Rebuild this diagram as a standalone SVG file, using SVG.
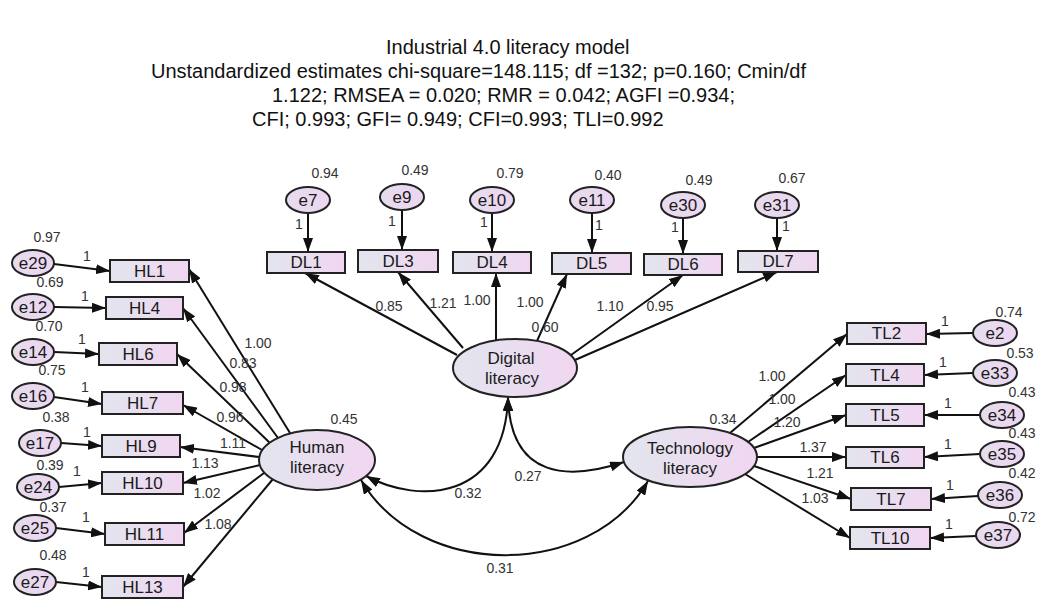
<svg xmlns="http://www.w3.org/2000/svg" width="1040" height="600" viewBox="0 0 1040 600">
<defs>
<linearGradient id="gb" x1="0" y1="0" x2="1" y2="0"><stop offset="0" stop-color="#e2e5ee"/><stop offset="1" stop-color="#f1d6f1"/></linearGradient>
<linearGradient id="ge" x1="0" y1="0" x2="1" y2="0"><stop offset="0" stop-color="#e6dcee"/><stop offset="1" stop-color="#ecd6f0"/></linearGradient>
<marker id="ah" viewBox="0 0 14 10" refX="14" refY="5" markerWidth="14" markerHeight="10" markerUnits="userSpaceOnUse" orient="auto-start-reverse"><path d="M0,0 L14,5 L0,10 z" fill="#111"/></marker>
</defs>
<style>
text{font-family:"Liberation Sans",Arial,sans-serif;fill:#1a1a1a;text-anchor:middle}
.t{font-size:20px;text-anchor:start;fill:#111}
.box{fill:url(#gb);stroke:#222;stroke-width:2}
.err{fill:url(#ge);stroke:#222;stroke-width:2}
.lat{fill:url(#gb);stroke:#222;stroke-width:2}
.nm{font-size:17px}
.ln{font-size:17px}
.n{font-size:14px;fill:#333}
.o{font-size:14px;fill:#333}
#connectors line,#connectors path{stroke:#111;stroke-width:2;fill:none;marker-end:url(#ah)}
#connectors path.cov{marker-start:url(#ah)}
</style>
<rect width="1040" height="600" fill="#fff"/>
<g id="title">
<text class="t" x="386" y="54">Industrial 4.0 literacy model</text>
<text class="t" x="151" y="78">Unstandardized estimates chi-square=148.115; df =132; p=0.160; Cmin/df</text>
<text class="t" x="272" y="102">1.122; RMSEA = 0.020; RMR = 0.042; AGFI =0.934;</text>
<text class="t" x="252" y="126">CFI; 0.993; GFI= 0.949; CFI=0.993; TLI=0.992</text>
</g>
<g id="connectors">
<line x1="54" y1="264" x2="110" y2="271"/>
<line x1="54" y1="307" x2="106" y2="308"/>
<line x1="54" y1="352" x2="99" y2="354"/>
<line x1="54" y1="397" x2="102" y2="404"/>
<line x1="61" y1="443" x2="102" y2="446"/>
<line x1="59" y1="487" x2="102" y2="483"/>
<line x1="56" y1="528" x2="105" y2="534"/>
<line x1="56" y1="582" x2="102" y2="587"/>
<line x1="290" y1="433" x2="189" y2="269"/>
<line x1="278" y1="438" x2="183" y2="308"/>
<line x1="270" y1="443" x2="177" y2="354"/>
<line x1="262" y1="450" x2="183" y2="405"/>
<line x1="259" y1="457" x2="180" y2="447"/>
<line x1="260" y1="465" x2="183" y2="483"/>
<line x1="264" y1="473" x2="184" y2="533"/>
<line x1="273" y1="479" x2="183" y2="587"/>
<line x1="308" y1="213" x2="308" y2="252"/>
<line x1="402" y1="210" x2="402" y2="250"/>
<line x1="492" y1="213" x2="492" y2="252"/>
<line x1="592" y1="213" x2="592" y2="253"/>
<line x1="683" y1="218" x2="683" y2="254"/>
<line x1="777" y1="218" x2="777" y2="251"/>
<line x1="457" y1="355" x2="305" y2="273"/>
<line x1="463" y1="348" x2="398" y2="272"/>
<line x1="496" y1="340" x2="496" y2="273"/>
<line x1="537" y1="341" x2="567" y2="274"/>
<line x1="571" y1="355" x2="683" y2="275"/>
<line x1="575" y1="360" x2="777" y2="272"/>
<line x1="730" y1="433" x2="847" y2="334"/>
<line x1="748" y1="442" x2="846" y2="375"/>
<line x1="754" y1="448" x2="846" y2="415"/>
<line x1="757" y1="457" x2="846" y2="457"/>
<line x1="754" y1="466" x2="851" y2="499"/>
<line x1="745" y1="474" x2="850" y2="538"/>
<line x1="973" y1="333" x2="926" y2="334"/>
<line x1="973" y1="373" x2="924" y2="375"/>
<line x1="980" y1="415" x2="924" y2="415"/>
<line x1="980" y1="454" x2="924" y2="457"/>
<line x1="978" y1="496" x2="931" y2="499"/>
<line x1="976" y1="536" x2="930" y2="538"/>
<path class="cov" d="M366 476 C420 505 505 500 508 397"/>
<path class="cov" d="M508 397 C510 480 570 480 624 462"/>
<path class="cov" d="M361 480 C420 580 590 580 648 481"/>
<g id="labels">
<text class="o" x="87" y="261">1</text>
<text class="o" x="85" y="301">1</text>
<text class="o" x="82" y="344">1</text>
<text class="o" x="85" y="392">1</text>
<text class="o" x="87" y="437">1</text>
<text class="o" x="77" y="476">1</text>
<text class="o" x="86" y="522">1</text>
<text class="o" x="86" y="577">1</text>
<text class="n" x="258" y="348">1.00</text>
<text class="n" x="243" y="368">0.83</text>
<text class="n" x="233" y="392">0.98</text>
<text class="n" x="230" y="422">0.96</text>
<text class="n" x="233" y="448">1.11</text>
<text class="n" x="205" y="468">1.13</text>
<text class="n" x="207" y="498">1.02</text>
<text class="n" x="218" y="529">1.08</text>
<text class="o" x="299" y="229">1</text>
<text class="o" x="392" y="226">1</text>
<text class="o" x="484" y="227">1</text>
<text class="o" x="599" y="230">1</text>
<text class="o" x="675" y="232">1</text>
<text class="o" x="786" y="231">1</text>
<text class="n" x="389" y="311">0.85</text>
<text class="n" x="443" y="308">1.21</text>
<text class="n" x="477" y="305">1.00</text>
<text class="n" x="530" y="307">1.00</text>
<text class="n" x="610" y="311">1.10</text>
<text class="n" x="660" y="311">0.95</text>
<text class="n" x="772" y="381">1.00</text>
<text class="n" x="782" y="404">1.00</text>
<text class="n" x="787" y="427">1.20</text>
<text class="n" x="813" y="452">1.37</text>
<text class="n" x="820" y="478">1.21</text>
<text class="n" x="815" y="503">1.03</text>
<text class="o" x="945" y="326">1</text>
<text class="o" x="943" y="367">1</text>
<text class="o" x="948" y="408">1</text>
<text class="o" x="948" y="449">1</text>
<text class="o" x="950" y="490">1</text>
<text class="o" x="949" y="529">1</text>
<text class="n" x="468" y="498">0.32</text>
<text class="n" x="528" y="481">0.27</text>
<text class="n" x="500" y="573">0.31</text>
</g>
</g>
<g id="e29"><ellipse class="err" cx="33" cy="263" rx="21" ry="13"/><text class="nm" x="33" y="269">e29</text><text class="n" x="47" y="242">0.97</text></g>
<g id="e12"><ellipse class="err" cx="33" cy="307" rx="21" ry="13"/><text class="nm" x="33" y="313">e12</text><text class="n" x="50" y="287">0.69</text></g>
<g id="e14"><ellipse class="err" cx="33" cy="352" rx="21" ry="13"/><text class="nm" x="33" y="358">e14</text><text class="n" x="49" y="331">0.70</text></g>
<g id="e16"><ellipse class="err" cx="33" cy="396" rx="21" ry="13"/><text class="nm" x="33" y="402">e16</text><text class="n" x="52" y="375">0.75</text></g>
<g id="e17"><ellipse class="err" cx="40" cy="443" rx="21" ry="13"/><text class="nm" x="40" y="449">e17</text><text class="n" x="56" y="422">0.38</text></g>
<g id="e24"><ellipse class="err" cx="38" cy="487" rx="21" ry="13"/><text class="nm" x="38" y="493">e24</text><text class="n" x="50" y="470">0.39</text></g>
<g id="e25"><ellipse class="err" cx="35" cy="528" rx="21" ry="13"/><text class="nm" x="35" y="534">e25</text><text class="n" x="53" y="512">0.37</text></g>
<g id="e27"><ellipse class="err" cx="35" cy="582" rx="21" ry="13"/><text class="nm" x="35" y="588">e27</text><text class="n" x="53" y="560">0.48</text></g>
<g id="HL1"><rect class="box" x="110" y="260" width="79" height="22"/><text class="ln" x="149.5" y="277">HL1</text></g>
<g id="HL4"><rect class="box" x="106" y="297" width="77" height="22"/><text class="ln" x="144.5" y="314">HL4</text></g>
<g id="HL6"><rect class="box" x="99" y="343" width="78" height="22"/><text class="ln" x="138" y="360">HL6</text></g>
<g id="HL7"><rect class="box" x="102" y="392" width="81" height="22"/><text class="ln" x="142.5" y="409">HL7</text></g>
<g id="HL9"><rect class="box" x="102" y="435" width="78" height="22"/><text class="ln" x="141" y="452">HL9</text></g>
<g id="HL10"><rect class="box" x="102" y="472" width="81" height="22"/><text class="ln" x="142.5" y="489">HL10</text></g>
<g id="HL11"><rect class="box" x="105" y="523" width="79" height="22"/><text class="ln" x="144.5" y="540">HL11</text></g>
<g id="HL13"><rect class="box" x="102" y="576" width="81" height="22"/><text class="ln" x="142.5" y="593">HL13</text></g>
<g id="e7"><ellipse class="err" cx="308" cy="200" rx="22" ry="13"/><text class="nm" x="308" y="206">e7</text><text class="n" x="325" y="178">0.94</text></g>
<g id="e9"><ellipse class="err" cx="402" cy="197" rx="22" ry="13"/><text class="nm" x="402" y="203">e9</text><text class="n" x="415" y="175">0.49</text></g>
<g id="e10"><ellipse class="err" cx="492" cy="200" rx="22" ry="13"/><text class="nm" x="492" y="206">e10</text><text class="n" x="510" y="178">0.79</text></g>
<g id="e11"><ellipse class="err" cx="592" cy="200" rx="22" ry="13"/><text class="nm" x="592" y="206">e11</text><text class="n" x="608" y="180">0.40</text></g>
<g id="e30"><ellipse class="err" cx="683" cy="205" rx="22" ry="13"/><text class="nm" x="683" y="211">e30</text><text class="n" x="699" y="185">0.49</text></g>
<g id="e31"><ellipse class="err" cx="777" cy="205" rx="22" ry="13"/><text class="nm" x="777" y="211">e31</text><text class="n" x="792" y="183">0.67</text></g>
<g id="DL1"><rect class="box" x="267" y="252" width="78" height="21"/><text class="ln" x="306" y="268">DL1</text></g>
<g id="DL3"><rect class="box" x="358" y="250" width="80" height="22"/><text class="ln" x="398" y="267">DL3</text></g>
<g id="DL4"><rect class="box" x="453" y="252" width="78" height="21"/><text class="ln" x="492" y="268">DL4</text></g>
<g id="DL5"><rect class="box" x="552" y="253" width="79" height="21"/><text class="ln" x="591.5" y="269">DL5</text></g>
<g id="DL6"><rect class="box" x="644" y="254" width="78" height="21"/><text class="ln" x="683" y="270">DL6</text></g>
<g id="DL7"><rect class="box" x="738" y="251" width="80" height="21"/><text class="ln" x="778" y="267">DL7</text></g>
<g id="TL2"><rect class="box" x="847" y="323" width="79" height="21"/><text class="ln" x="886.5" y="339">TL2</text></g>
<g id="TL4"><rect class="box" x="846" y="364" width="78" height="22"/><text class="ln" x="885" y="381">TL4</text></g>
<g id="TL5"><rect class="box" x="846" y="404" width="78" height="22"/><text class="ln" x="885" y="421">TL5</text></g>
<g id="TL6"><rect class="box" x="846" y="447" width="78" height="21"/><text class="ln" x="885" y="463">TL6</text></g>
<g id="TL7"><rect class="box" x="851" y="488" width="80" height="22"/><text class="ln" x="891" y="505">TL7</text></g>
<g id="TL10"><rect class="box" x="850" y="527" width="80" height="22"/><text class="ln" x="890" y="544">TL10</text></g>
<g id="e2"><ellipse class="err" cx="995" cy="333" rx="22" ry="13"/><text class="nm" x="995" y="339">e2</text><text class="n" x="1009" y="317">0.74</text></g>
<g id="e33"><ellipse class="err" cx="995" cy="373" rx="22" ry="13"/><text class="nm" x="995" y="379">e33</text><text class="n" x="1020" y="358">0.53</text></g>
<g id="e34"><ellipse class="err" cx="1002" cy="415" rx="22" ry="13"/><text class="nm" x="1002" y="421">e34</text><text class="n" x="1022" y="397">0.43</text></g>
<g id="e35"><ellipse class="err" cx="1002" cy="454" rx="22" ry="13"/><text class="nm" x="1002" y="460">e35</text><text class="n" x="1022" y="438">0.43</text></g>
<g id="e36"><ellipse class="err" cx="1000" cy="495" rx="22" ry="13"/><text class="nm" x="1000" y="501">e36</text><text class="n" x="1022" y="478">0.42</text></g>
<g id="e37"><ellipse class="err" cx="998" cy="535" rx="22" ry="13"/><text class="nm" x="998" y="541">e37</text><text class="n" x="1022" y="522">0.72</text></g>
<g id="human_literacy"><ellipse class="lat" cx="317" cy="460" rx="58" ry="30"/><text class="nm" x="317" y="453">Human</text><text class="nm" x="317" y="473">literacy</text><text class="n" x="344" y="424">0.45</text></g>
<g id="digital_literacy"><ellipse class="lat" cx="515" cy="368" rx="62" ry="29"/><text class="nm" x="511" y="364">Digital</text><text class="nm" x="512" y="384">literacy</text><text class="n" x="545" y="332">0.60</text></g>
<g id="technology_literacy"><ellipse class="lat" cx="690" cy="457" rx="67" ry="30"/><text class="nm" x="690" y="454">Technology</text><text class="nm" x="690" y="474">literacy</text><text class="n" x="723" y="424">0.34</text></g>
</svg>
